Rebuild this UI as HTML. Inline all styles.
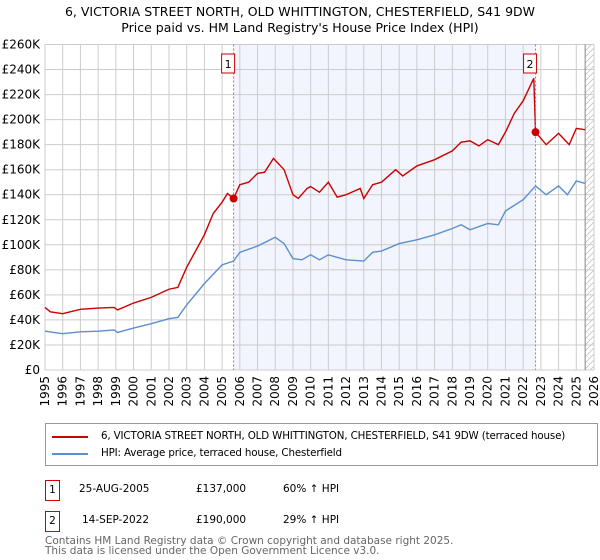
<!DOCTYPE html>
<html><head><meta charset="utf-8"><style>
body{margin:0;width:600px;height:560px;background:#fff;font-family:"DejaVu Sans","Liberation Sans",sans-serif;overflow:hidden;position:relative}
.t{position:absolute;white-space:nowrap;color:#000}
</style></head><body>
<div class="t" style="left:0;width:600px;text-align:center;top:4px;font-size:12.5px">6, VICTORIA STREET NORTH, OLD WHITTINGTON, CHESTERFIELD, S41 9DW</div>
<div class="t" style="left:0;width:600px;text-align:center;top:20px;font-size:12.5px">Price paid vs. HM Land Registry's House Price Index (HPI)</div>
<svg id="c" width="600" height="420" style="position:absolute;left:0;top:0"></svg>
<div style="position:absolute;left:45px;top:423px;width:551px;height:41px;border:1px solid #999;font-size:10.3px">
<div style="position:absolute;left:6px;top:12px;width:36px;height:2px;background:#cc0000"></div>
<div class="t" style="left:55px;top:6px;letter-spacing:-0.15px">6, VICTORIA STREET NORTH, OLD WHITTINGTON, CHESTERFIELD, S41 9DW (terraced house)</div>
<div style="position:absolute;left:6px;top:29px;width:36px;height:2px;background:#5b8fd0"></div>
<div class="t" style="left:55px;top:23px;letter-spacing:-0.15px">HPI: Average price, terraced house, Chesterfield</div>
</div>
<div style="font-size:10.5px">
<div class="t" style="left:45px;top:480px;width:13px;height:19px;border:1px solid #cc0000;text-align:center;line-height:19px">1</div>
<div class="t" style="left:79px;top:483px">25-AUG-2005</div>
<div class="t" style="left:196px;top:483px">£137,000</div>
<div class="t" style="left:283px;top:483px">60% ↑ HPI</div>
</div>
<div style="font-size:10.5px">
<div class="t" style="left:45px;top:511px;width:13px;height:19px;border:1px solid #cc0000;text-align:center;line-height:19px">2</div>
<div class="t" style="left:82px;top:514px">14-SEP-2022</div>
<div class="t" style="left:196px;top:514px">£190,000</div>
<div class="t" style="left:283px;top:514px">29% ↑ HPI</div>
</div>
<div class="t" style="left:45px;top:537px;font-size:10.5px;color:#666;line-height:9.5px">Contains HM Land Registry data © Crown copyright and database right 2025.<br>This data is licensed under the Open Government Licence v3.0.</div>
<script>
const redYears=[1995,1995.3,1996,1997,1998,1998.9,1999.1,2000,2001,2002,2002.5,2003,2004,2004.5,2005,2005.3,2005.65,2006,2006.5,2007,2007.4,2007.9,2008.5,2009,2009.3,2009.8,2010,2010.5,2011,2011.5,2012,2012.8,2013,2013.5,2014,2014.8,2015.2,2016,2017,2018,2018.5,2019,2019.5,2020,2020.6,2021,2021.5,2022,2022.6,2022.7,2023.3,2024,2024.6,2025,2025.5];
const redVals=[50,46.5,45,48.5,49.5,50,48,53.5,58,64.5,66,82,108,125,134,141,137,148,150,157,158,169,160,140,137,145,146.5,142,150,138,140,145,137,148,150,160,155,163,168,175,182,183,179,184,180,190,205,215,233,190,180,189,180,193,192];
const blueYears=[1995,1996,1997,1998,1998.9,1999.1,2000,2001,2002,2002.5,2003,2004,2005,2005.65,2006,2007,2008,2008.5,2009,2009.5,2010,2010.5,2011,2012,2013,2013.5,2014,2015,2016,2017,2018,2018.5,2019,2020,2020.6,2021,2022,2022.7,2023.3,2024,2024.5,2025,2025.5];
const blueVals=[31,29,30.5,31,32,30,33.5,37,41,42,52,69,84,87,94,99,106,101,89,88,92,88,92,88,87,94,95,101,104,108,113,116,112,117,116,127,136,147,140,147,140,151,149];
const yTicks=[0,20,40,60,80,100,120,140,160,180,200,220,240,260];
const xTicks=[1995,1996,1997,1998,1999,2000,2001,2002,2003,2004,2005,2006,2007,2008,2009,2010,2011,2012,2013,2014,2015,2016,2017,2018,2019,2020,2021,2022,2023,2024,2025,2026];
const sales=[[2005.65,137,"1"],[2022.7,190,"2"]];
const NS="http://www.w3.org/2000/svg",svg=document.getElementById('c');
const L=45,R=594,T=44.5,B=370;
const X=y=>L+(y-1995)*(R-L)/31, Y=v=>B-v*(B-T)/260;
function mk(t,a,p){const e=document.createElementNS(NS,t);for(const k in a)e.setAttribute(k,a[k]);(p||svg).appendChild(e);return e;}
const defs=mk('defs',{});
const pat=mk('pattern',{id:'h',width:6,height:6,patternUnits:'userSpaceOnUse'},defs);
mk('path',{d:'M0,6 L6,0',stroke:'#bbb','stroke-width':0.7},pat);
let e=mk('rect',{x:X(2005.65),y:T,width:X(2022.7)-X(2005.65),height:B-T,fill:'#f2f5fd'});

e=mk('rect',{x:X(2025.5),y:T,width:R-X(2025.5),height:B-T,fill:'url(#h)'});

yTicks.forEach(v=>{mk('line',{x1:L,x2:R,y1:Y(v),y2:Y(v),stroke:'#ccc'});
 const t=mk('text',{x:L-5,y:Y(v)+4,'text-anchor':'end','font-size':12,'font-family':'DejaVu Sans,sans-serif'});t.textContent='£'+(v?v+'K':'0');
 });
xTicks.forEach(y=>{mk('line',{x1:X(y),x2:X(y),y1:T,y2:B,stroke:'#ccc'});
 const t=mk('text',{x:0,y:0,'text-anchor':'end','font-size':12,'font-family':'DejaVu Sans,sans-serif',transform:`translate(${X(y)+4},${B+6}) rotate(-90)`});t.textContent=y;
 });
mk('line',{x1:X(2025.5),x2:X(2025.5),y1:T,y2:B,stroke:'#888'});
function line(xs,vs,c,n){const p=mk('polyline',{points:xs.map((x,i)=>X(x)+','+Y(vs[i])).join(' '),fill:'none',stroke:c,'stroke-width':1.4});
 }
line(blueYears,blueVals,'#5b8fd0','hpi-line');
line(redYears,redVals,'#cc0000','property-line');
sales.forEach(s=>{mk('line',{x1:X(s[0]),x2:X(s[0]),y1:T,y2:B,stroke:'#e06060','stroke-dasharray':'2,2'});
 const c=mk('circle',{cx:X(s[0]),cy:Y(s[1]),r:4,fill:'#cc0000'});
 const r=mk('rect',{x:X(s[0])-12,y:54,width:13,height:19,fill:'#fff',stroke:'#cc0000'});
 const t=mk('text',{x:X(s[0])-5.5,y:68,'text-anchor':'middle','font-size':11,'font-family':'DejaVu Sans,sans-serif'});t.textContent=s[2];});
</script>
</body></html>
